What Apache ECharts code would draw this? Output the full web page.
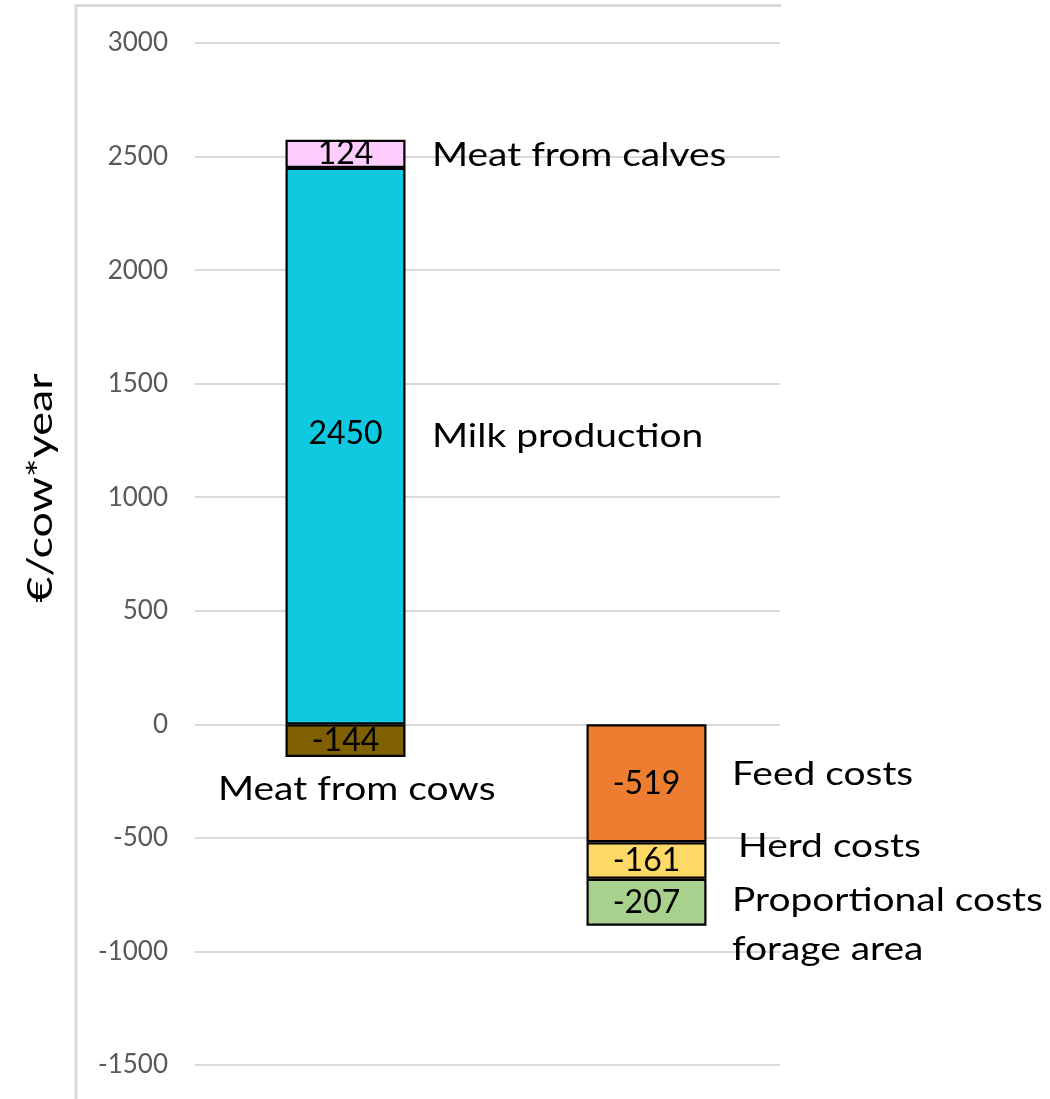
<!DOCTYPE html>
<html>
<head>
<meta charset="utf-8">
<script src="https://cdn.jsdelivr.net/npm/echarts@6/dist/echarts.min.js"></script>
<style>
  html, body { margin: 0; padding: 0; background: #ffffff; }
  #chart { width: 1050px; height: 1099px; }
</style>
</head>
<body>
<div id="chart"></div>
<script>
// Revenues and costs per cow and year
const categories = ['Revenues', 'Costs'];
const milkProduction = [2450, '-'];
const meatFromCalves = [124, '-'];
const meatFromCows = [-144, '-'];
const feedCosts = ['-', -519];
const herdCosts = ['-', -161];
const proportionalCosts = ['-', -207];
const yTicks = { min: -1500, max: 3000, step: 500 };
const axisTitle = '€/cow*year';

const FONT = 'Lato, "Noto Sans", sans-serif';

function barSeries(name, data, color, labelOffset) {
  return {
    name: name,
    type: 'bar',
    xAxisIndex: 1,
    yAxisIndex: 1,
    stack: 'total',
    barWidth: 120,
    data: data,
    itemStyle: { color: color, borderColor: '#000000', borderWidth: 2.2 },
    label: {
      show: true,
      position: 'inside',
      color: '#000000',
      fontSize: 32,
      fontFamily: FONT,
      offset: labelOffset || [0, 0]
    }
  };
}

// side captions naming each segment
function caption(text, x, y, lineHeight) {
  return {
    type: 'text',
    x: x,
    y: y,
    z: 100,
    scaleX: 1.18,
    style: {
      text: text,
      fill: '#000000',
      fontSize: 33,
      fontFamily: FONT,
      verticalAlign: 'middle',
      align: 'left',
      lineHeight: lineHeight || 40
    }
  };
}

const chart = echarts.init(document.getElementById('chart'), null, { renderer: 'canvas' });

chart.setOption({
  animation: false,
  backgroundColor: '#ffffff',
  grid: [
    { left: 195, top: 43, width: 585, height: 1022 },
    { left: 195, top: 43, width: 602, height: 1022 }
  ],
  xAxis: [
    { gridIndex: 0, type: 'category', data: categories, show: false },
    { gridIndex: 1, type: 'category', data: categories, show: false }
  ],
  yAxis: [
    {
      gridIndex: 0,
      type: 'value',
      min: yTicks.min,
      max: yTicks.max,
      interval: yTicks.step,
      axisLine: { show: false },
      axisTick: { show: false },
      axisLabel: {
        color: '#595959',
        fontSize: 26,
        fontFamily: FONT,
        margin: 27,
        formatter: function (v) { return String(v); }
      },
      splitLine: { lineStyle: { color: '#d9d9d9', width: 2 } }
    },
    {
      gridIndex: 1,
      type: 'value',
      min: yTicks.min,
      max: yTicks.max,
      interval: yTicks.step,
      show: false
    }
  ],
  series: [
    barSeries('Milk production', milkProduction, '#0FC9E1', [0, -12]),
    barSeries('Meat from calves', meatFromCalves, '#FFCCFF'),
    barSeries('Meat from cows', meatFromCows, '#7F6000'),
    barSeries('Feed costs', feedCosts, '#ED7D31'),
    barSeries('Herd costs', herdCosts, '#FFD966'),
    barSeries('Proportional costs forage area', proportionalCosts, '#A9D18E')
  ],
  graphic: [
    {
      type: 'polyline',
      shape: { points: [[76, 1099], [76, 5.5], [781, 5.5]] },
      style: { stroke: '#d9d9d9', lineWidth: 3, fill: null },
      silent: true
    },
    {
      type: 'text',
      x: 41,
      y: 488,
      z: 100,
      rotation: Math.PI / 2,
      scaleX: 1.28,
      style: {
        text: axisTitle,
        fill: '#000000',
        fontSize: 35,
        fontFamily: FONT,
        align: 'center',
        verticalAlign: 'middle'
      }
    },
    caption('Meat from calves', 432, 155),
    caption('Milk production', 432, 436),
    caption('Meat from cows', 218, 789),
    caption('Feed costs', 732, 774),
    caption('Herd costs', 738, 846),
    caption('Proportional costs\nforage area', 732, 925, 49)
  ]
});
</script>
</body>
</html>
